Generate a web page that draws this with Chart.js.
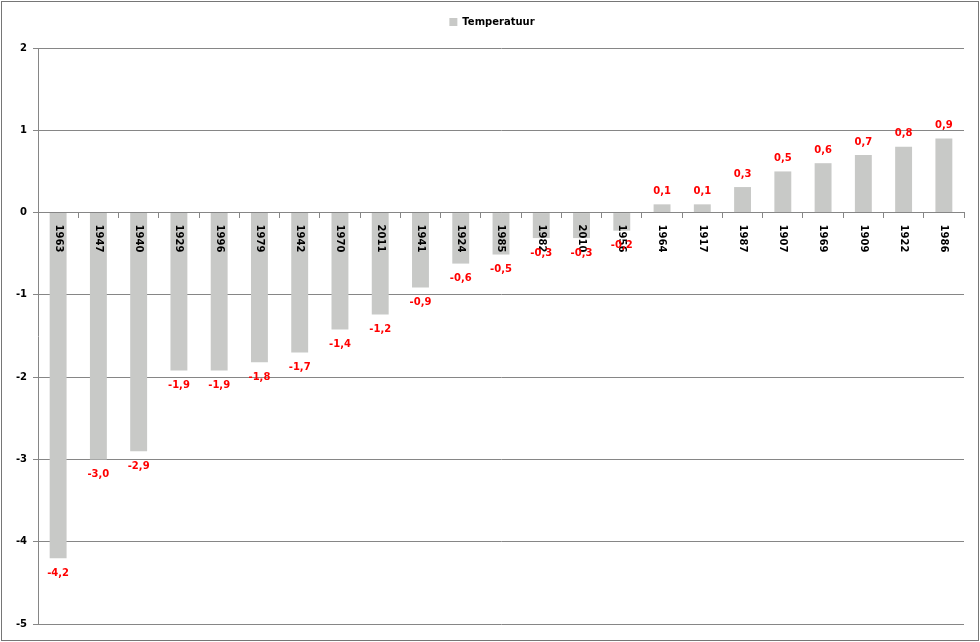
<!DOCTYPE html>
<html>
<head>
<meta charset="utf-8">
<script src="https://cdn.jsdelivr.net/npm/chart.js@4/dist/chart.umd.min.js"></script>
<style>
  html, body { margin: 0; padding: 0; background: #fff; }
  #wrap { position: relative; width: 980px; height: 642px; }
  #frame { position: absolute; left: 1px; top: 1px; width: 978px; height: 640px;
           box-sizing: border-box; border: 1px solid #767676; pointer-events: none; }
</style>
</head>
<body>
<div id="wrap">
  <canvas id="chart" width="980" height="642"></canvas>
  <div id="frame"></div>
</div>
<script>
// jaren gesorteerd op temperatuur
const years = ['1963', '1947', '1940', '1929', '1996', '1979', '1942', '1970', '2011', '1941', '1924', '1985',
               '1982', '2010', '1956', '1964', '1917', '1987', '1907', '1969', '1909', '1922', '1986'];
const temps = [-4.2, -3.0, -2.9, -1.92, -1.92, -1.82, -1.7, -1.42, -1.24, -0.91, -0.62, -0.51,
               -0.31, -0.31, -0.22, 0.1, 0.1, 0.31, 0.5, 0.6, 0.7, 0.8, 0.9];
const yTicks = [2, 1, 0, -1, -2, -3, -4, -5];

const font = 'DejaVu Sans';
const gridColor = '#868686';

// extra ruimte onder de legenda
const legendGap = {
  id: 'legendGap',
  beforeInit(chart) {
    const fit = chart.legend.fit;
    chart.legend.fit = function () {
      fit.call(this);
      this.height += 11;
    };
  }
};

// jaartallen in de staven + rode waardelabels
const barText = {
  id: 'barText',
  afterDatasetsDraw(chart) {
    const ctx = chart.ctx;
    const meta = chart.getDatasetMeta(0);
    const zero = chart.scales.y.getPixelForValue(0);
    ctx.save();
    meta.data.forEach((bar, i) => {
      const v = temps[i];
      // jaartal, 90 graden gedraaid
      ctx.save();
      ctx.translate(bar.x, zero + 12);
      ctx.rotate(Math.PI / 2);
      ctx.font = 'bold 10px "' + font + '"';
      ctx.fillStyle = '#000';
      ctx.textAlign = 'left';
      ctx.textBaseline = 'middle';
      ctx.fillText(years[i], 0, 0);
      ctx.restore();
      // waarde
      ctx.font = 'bold 10px "' + font + '"';
      ctx.fillStyle = '#ff0000';
      ctx.textAlign = 'center';
      ctx.textBaseline = 'middle';
      const ly = v >= 0 ? bar.y - 13 : bar.y + 15;
      ctx.fillText(v.toFixed(1).replace('.', ','), bar.x, ly);
    });
    ctx.restore();
  }
};

new Chart(document.getElementById('chart'), {
  type: 'bar',
  data: {
    labels: years,
    datasets: [{
      label: 'Temperatuur',
      data: temps,
      backgroundColor: '#c8c9c7',
      borderWidth: 0,
      categoryPercentage: 1,
      barPercentage: 0.42
    }]
  },
  options: {
    responsive: false,
    animation: false,
    layout: { padding: { left: 20, right: 16, top: 7, bottom: 18 } },
    plugins: {
      legend: {
        position: 'top',
        labels: {
          boxWidth: 8,
          boxHeight: 8,
          padding: 10,
          color: '#000',
          font: { family: font, size: 10, weight: 'bold' }
        }
      },
      tooltip: { enabled: false }
    },
    scales: {
      x: {
        position: { y: 0 },
        grid: { drawOnChartArea: false, drawTicks: true, tickLength: 5, color: gridColor, offset: true },
        border: { color: gridColor, width: 1 },
        ticks: { display: false },
        afterFit(scale) { scale.height = 5; }
      },
      y: {
        min: -5,
        max: 2,
        afterBuildTicks(scale) { scale.ticks = yTicks.map(v => ({ value: v })); },
        afterFit(scale) {
          scale.width = 18;
          // labels mogen buiten de smalle as vallen
          scale._computeLabelArea = () => undefined;
        },
        grid: { color: gridColor, tickLength: 5 },
        border: { color: gridColor, width: 1 },
        ticks: {
          padding: 6,
          color: '#000',
          font: { family: font, size: 10, weight: 'bold' }
        }
      }
    }
  },
  plugins: [legendGap, barText]
});
</script>
</body>
</html>
